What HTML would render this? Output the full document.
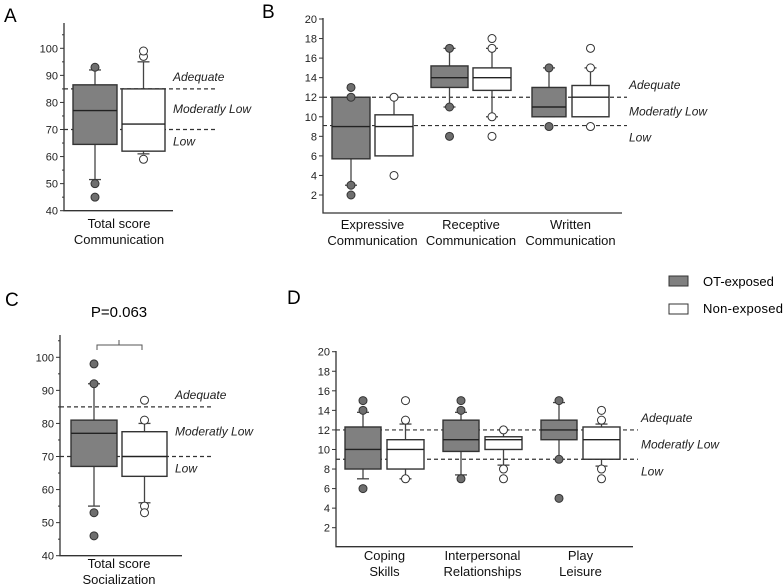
<!DOCTYPE html>
<html><head><meta charset="utf-8"><style>
body{margin:0;background:#fff;}
svg{display:block;font-family:"Liberation Sans",sans-serif;}
.it{font-style:italic;font-size:12px;fill:#222;}
.tk{font-size:11px;fill:#222;}
.cat{font-size:13px;fill:#111;}
</style></head><body>
<svg id="fig" width="784" height="587" viewBox="0 0 784 587">
<text x="4" y="22" font-size="19">A</text>
<text x="262" y="18" font-size="19">B</text>
<text x="5" y="306" font-size="19">C</text>
<text x="287" y="304" font-size="19">D</text>
<g>
<rect x="669" y="276" width="19" height="10" fill="#808080" stroke="#333"/>
<text x="703" y="286" font-size="13">OT-exposed</text>
<rect x="669" y="304" width="19" height="10" fill="#fff" stroke="#333"/>
<text x="703" y="313" font-size="13" textLength="80">Non-exposed</text>
</g>
<g>
<text x="119" y="317" font-size="15" text-anchor="middle">P=0.063</text>
<path d="M97,350 V345 H142 V350 M119,345 V340" fill="none" stroke="#555" stroke-width="1"/>
</g>
</svg>
<script>
// Panel A data: [q1, median, q3, whiskerLow, whiskerHigh]
const aCategories = ["Total score|Communication"];
const aOT = [[64.5, 77, 86.5, 51.5, 92]];
const aNon = [[62, 72, 85, 61, 95]];
const aOTOut = [[93, 50, 45]];
const aNonOut = [[97, 99, 59]];
const aTicks = [40, 50, 60, 70, 80, 90, 100];
const aRefs = [85, 70];
// Panel B
const bCategories = ["Expressive|Communication", "Receptive|Communication", "Written|Communication"];
const bOT = [[5.7, 9, 12, 3, 12], [13, 14, 15.2, 11, 17], [10, 11, 13, 10, 15]];
const bNon = [[6, 9, 10.2, 6, 12], [12.7, 14, 15, 10, 17], [10, 12, 13.2, 10, 15]];
const bOTOut = [[13, 12, 3, 2], [17, 11, 8], [15, 9]];
const bNonOut = [[12, 4], [18, 17, 10, 8], [17, 15, 9]];
const bTicks = [2, 4, 6, 8, 10, 12, 14, 16, 18, 20];
const bRefs = [12, 9.1];
// Panel C
const cCategories = ["Total score|Socialization"];
const cOT = [[67, 77, 81, 55, 92]];
const cNon = [[64, 70, 77.5, 56, 80]];
const cOTOut = [[98, 92, 53, 46]];
const cNonOut = [[87, 81, 55, 53]];
const cTicks = [40, 50, 60, 70, 80, 90, 100];
const cRefs = [85, 70];
// Panel D
const dCategories = ["Coping|Skills", "Interpersonal|Relationships", "Play|Leisure"];
const dOT = [[8, 10, 12.3, 7, 13.8], [9.8, 11, 13, 7.4, 13.8], [11, 12, 13, 9, 14.8]];
const dNon = [[8, 10, 11, 7, 12.6], [10, 11, 11.3, 8.4, 12], [9, 11, 12.3, 8.3, 12.6]];
const dOTOut = [[15, 14, 6], [15, 14, 7], [15, 9, 5]];
const dNonOut = [[15, 13, 7], [12, 8, 7], [14, 13, 8, 7]];
const dTicks = [2, 4, 6, 8, 10, 12, 14, 16, 18, 20];
const dRefs = [12, 9];
const refLabels = ["Adequate", "Moderatly Low", "Low"];

const NS = "http://www.w3.org/2000/svg";
const svg = document.getElementById("fig");
function mk(tag, attrs, parent) {
  const e = document.createElementNS(NS, tag);
  for (const k in attrs) e.setAttribute(k, attrs[k]);
  (parent || svg).appendChild(e);
  return e;
}

function panel(cfg) {
  const g = mk("g", {});
  
  
  const y = v => cfg.y0 + (v - cfg.v0) * (cfg.y1 - cfg.y0) / (cfg.v1 - cfg.v0);
  cfg.refs.forEach((r, i) => {
    const l = mk("line", {x1: cfg.ax, x2: cfg.refEnd, y1: y(r), y2: y(r), stroke: "#333", "stroke-dasharray": "4,3", "stroke-width": 1.2}, g);
    
    
  });
  const lblY = [y(cfg.refs[0]) - 8, (y(cfg.refs[0]) + y(cfg.refs[1])) / 2 + 4, y(cfg.refs[1]) + 16];
  refLabels.forEach((t, i) => {
    const tx = mk("text", {x: cfg.lblX, y: lblY[i], class: "it"}, g);
    tx.textContent = t;
    
    
  });
  const ax = mk("path", {d: `M${cfg.ax},${cfg.top} V${cfg.base} H${cfg.axEnd}`, fill: "none", stroke: "#333", "stroke-width": 1.3}, g);
  
  
  cfg.ticks.forEach(t => {
    mk("line", {x1: cfg.ax - 4, x2: cfg.ax, y1: y(t), y2: y(t), stroke: "#333"}, g);
    const tx = mk("text", {x: cfg.ax - 6, y: y(t) + 4, "text-anchor": "end", class: "tk"}, g);
    tx.textContent = t;
    
    
    if (cfg.minor) mk("line", {x1: cfg.ax - 2, x2: cfg.ax, y1: y(t + cfg.minor), y2: y(t + cfg.minor), stroke: "#333"}, g);
  });
  cfg.cats.forEach((c, i) => {
    [[cfg.ot[i], cfg.otOut[i], cfg.gx[i], "#808080", "ot"], [cfg.non[i], cfg.nonOut[i], cfg.wx[i], "#fff", "non"]].forEach(([d, outs, xs, fill, key]) => {
      const cx = (xs[0] + xs[1]) / 2;
      const bg = mk("g", {}, g);
      
      
      mk("line", {x1: cx, x2: cx, y1: y(d[3]), y2: y(d[4]), stroke: "#444", "stroke-width": 1.3}, bg);
      mk("line", {x1: cx - 6, x2: cx + 6, y1: y(d[3]), y2: y(d[3]), stroke: "#444", "stroke-width": 1.3}, bg);
      mk("line", {x1: cx - 6, x2: cx + 6, y1: y(d[4]), y2: y(d[4]), stroke: "#444", "stroke-width": 1.3}, bg);
      mk("rect", {x: xs[0], y: y(d[2]), width: xs[1] - xs[0], height: y(d[0]) - y(d[2]), fill: fill, stroke: "#333", "stroke-width": 1.4}, bg);
      mk("line", {x1: xs[0], x2: xs[1], y1: y(d[1]), y2: y(d[1]), stroke: "#222", "stroke-width": 1.4}, bg);
      outs.forEach(o => {
        const p = mk("circle", {cx: cx, cy: y(o), r: 4, fill: fill == "#fff" ? "#fff" : "#6e6e6e", stroke: "#333", "stroke-width": 1}, bg);
        
        
      });
    });
    const mid = (cfg.gx[i][0] + cfg.wx[i][1]) / 2;
    c.split("|").forEach((ln, k) => {
      const tx = mk("text", {x: mid, y: cfg.catY + k * 16, "text-anchor": "middle", class: "cat"}, g);
      tx.textContent = ln;
      
      
    });
  });
}

panel({name: "panel-a", cats: aCategories, ot: aOT, non: aNon, otOut: aOTOut, nonOut: aNonOut, ticks: aTicks, refs: aRefs,
  v0: 100, y0: 48.3, v1: 40, y1: 210.7, ax: 64, top: 23, base: 210.7, axEnd: 173, refEnd: 216, lblX: 173, minor: 5,
  gx: [[73, 117]], wx: [[122, 165]], catY: 228});
panel({name: "panel-b", cats: bCategories, ot: bOT, non: bNon, otOut: bOTOut, nonOut: bNonOut, ticks: bTicks, refs: bRefs,
  v0: 20, y0: 19, v1: 2, y1: 195, ax: 323, top: 18, base: 213, axEnd: 622, refEnd: 627, lblX: 629,
  gx: [[332, 370], [431, 468], [532, 566]], wx: [[375, 413], [473, 511], [572, 609]], catY: 229});
panel({name: "panel-c", cats: cCategories, ot: cOT, non: cNon, otOut: cOTOut, nonOut: cNonOut, ticks: cTicks, refs: cRefs,
  v0: 100, y0: 357.3, v1: 40, y1: 555.7, ax: 60, top: 335, base: 555.7, axEnd: 182, refEnd: 213, lblX: 175, minor: 5,
  gx: [[71, 117]], wx: [[122, 167]], catY: 568});
panel({name: "panel-d", cats: dCategories, ot: dOT, non: dNon, otOut: dOTOut, nonOut: dNonOut, ticks: dTicks, refs: dRefs,
  v0: 20, y0: 351.7, v1: 2, y1: 527.7, ax: 336, top: 351, base: 546.7, axEnd: 633, refEnd: 638, lblX: 641,
  gx: [[345, 381], [443, 479], [541, 577]], wx: [[387, 424], [485, 522], [583, 620]], catY: 560});
</script>
</body></html>
